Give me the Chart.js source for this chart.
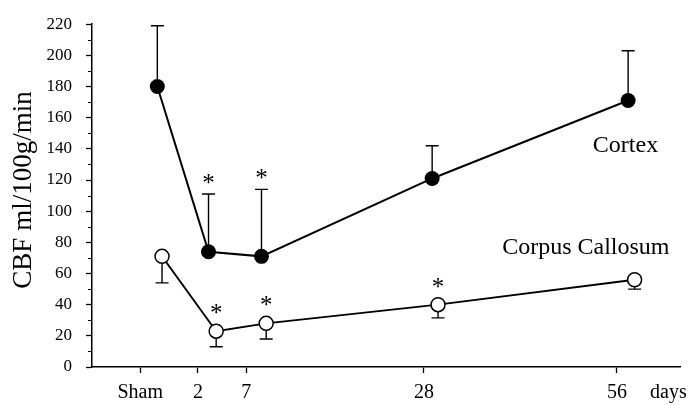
<!DOCTYPE html>
<html>
<head>
<meta charset="utf-8">
<script src="https://cdn.jsdelivr.net/npm/chart.js@4/dist/chart.umd.min.js"></script>
<style>
  html, body { margin: 0; padding: 0; background: #fff; }
  #wrap { width: 689px; height: 405px; }
</style>
</head>
<body>
<div id="wrap"><canvas id="c" width="689" height="405"></canvas></div>
<script>
// Horizontal axis is a drawn time line (position 0-100 along the axis), not to scale in days.
const tickLabels = ['Sham', '2', '7', '28', '56'];
const tickPos = [8.2, 18.0, 26.2, 56.4, 89.2];

// Cortex: mean CBF and SD (error bar drawn upward)
const cortexPos = [11.1, 19.8, 28.8, 57.8, 91.1];
const cortexMean = [180, 74, 71, 121, 171];
const cortexSD = [39, 37, 43, 21, 32];
const cortexSig = [false, true, true, false, false];

// Corpus callosum: mean CBF and SD (error bar drawn downward)
const callosumPos = [11.9, 21.1, 29.6, 58.8, 92.2];
const callosumMean = [71, 23, 28, 40, 56];
const callosumSD = [17, 10, 10, 8.5, 6];
const callosumSig = [false, true, true, true, false];

const yTitle = 'CBF ml/100g/min';
const unitLabel = 'days';
const seriesNames = ['Cortex', 'Corpus Callosum'];

const SERIF = "'Liberation Serif', 'Times New Roman', serif";
const INK = '#000';

// Draw text with its ink box vertically centred on y
function inkText(ctx, text, x, y, align) {
  ctx.textAlign = align || 'center';
  ctx.textBaseline = 'alphabetic';
  const m = ctx.measureText(text);
  ctx.fillText(text, x, y + (m.actualBoundingBoxAscent - m.actualBoundingBoxDescent) / 2);
}

const CORTEX_R = 7.5;
const CALLOSUM_R = 7;

const errorBars = {
  id: 'errorBars',
  beforeDatasetsDraw(chart) {
    const { ctx, scales: { x, y } } = chart;
    ctx.save();
    ctx.strokeStyle = INK;
    ctx.lineWidth = 1.4;
    const bar = (pos, from, to) => {
      const px = x.getPixelForValue(pos);
      const y0 = y.getPixelForValue(from);
      const y1 = y.getPixelForValue(to);
      ctx.beginPath();
      ctx.moveTo(px, y0);
      ctx.lineTo(px, y1);
      ctx.moveTo(px - 6.5, y1);
      ctx.lineTo(px + 6.5, y1);
      ctx.stroke();
    };
    cortexMean.forEach((m, i) => bar(cortexPos[i], m, m + cortexSD[i]));
    callosumMean.forEach((m, i) => bar(callosumPos[i], m, m - callosumSD[i]));
    ctx.restore();
  }
};

const annotations = {
  id: 'annotations',
  afterDraw(chart) {
    const { ctx, scales: { x, y } } = chart;
    ctx.save();
    ctx.fillStyle = INK;

    // minor ticks on the CBF axis
    ctx.strokeStyle = INK;
    ctx.lineWidth = 1;
    for (let v = 10; v < 220; v += 20) {
      const py = Math.round(y.getPixelForValue(v)) + 0.5;
      ctx.beginPath();
      ctx.moveTo(x.left - 4, py);
      ctx.lineTo(x.left, py);
      ctx.stroke();
    }

    // significance marks
    ctx.font = '25px ' + SERIF;
    cortexSig.forEach((s, i) => {
      if (!s) return;
      inkText(ctx, '*', x.getPixelForValue(cortexPos[i]),
        y.getPixelForValue(cortexMean[i] + cortexSD[i]) - 15);
    });
    callosumSig.forEach((s, i) => {
      if (!s) return;
      inkText(ctx, '*', x.getPixelForValue(callosumPos[i]),
        y.getPixelForValue(callosumMean[i]) - CALLOSUM_R - 15);
    });

    // series names
    ctx.font = '24px ' + SERIF;
    inkText(ctx, seriesNames[0], x.getPixelForValue(85.1), y.getPixelForValue(143), 'left');
    inkText(ctx, seriesNames[1], x.getPixelForValue(69.7), y.getPixelForValue(76), 'left');

    // unit at the end of the time axis
    ctx.font = '20px ' + SERIF;
    ctx.textAlign = 'left';
    ctx.textBaseline = 'middle';
    ctx.fillText(unitLabel, 650, 392.5);

    // vertical axis title
    ctx.font = '27px ' + SERIF;
    ctx.translate(24, 190);
    ctx.rotate(-Math.PI / 2);
    inkText(ctx, yTitle, 0, 0, 'center');
    ctx.restore();
  }
};

new Chart(document.getElementById('c'), {
  type: 'line',
  data: {
    datasets: [
      {
        label: seriesNames[0],
        data: cortexMean.map((m, i) => ({ x: cortexPos[i], y: m })),
        borderColor: INK,
        borderWidth: 2,
        pointRadius: CORTEX_R,
        pointBackgroundColor: INK,
        pointBorderColor: INK,
        pointBorderWidth: 0,
        tension: 0,
        clip: false
      },
      {
        label: seriesNames[1],
        data: callosumMean.map((m, i) => ({ x: callosumPos[i], y: m })),
        borderColor: INK,
        borderWidth: 1.8,
        pointRadius: CALLOSUM_R,
        pointBackgroundColor: '#fff',
        pointBorderColor: INK,
        pointBorderWidth: 1.5,
        tension: 0,
        clip: false
      }
    ]
  },
  options: {
    responsive: false,
    animation: false,
    devicePixelRatio: 1,
    layout: { padding: { top: 13, right: 6, left: 0, bottom: 0 } },
    plugins: { legend: { display: false }, tooltip: { enabled: false } },
    scales: {
      x: {
        type: 'linear',
        min: 0,
        max: 100,
        afterBuildTicks: (s) => { s.ticks = tickPos.map(v => ({ value: v })); },
        afterFit: (s) => { s.height = 38; },
        ticks: {
          callback: (v, i) => tickLabels[i],
          autoSkip: false,
          maxRotation: 0,
          padding: 8,
          color: INK,
          font: { family: SERIF, size: 20 }
        },
        grid: { drawOnChartArea: false, tickLength: 6, tickColor: INK, tickWidth: 1.3 },
        border: { color: INK, width: 1.5 }
      },
      y: {
        min: 0,
        max: 220,
        afterFit: (s) => { s.width = 92; },
        ticks: {
          stepSize: 20,
          padding: 14,
          color: INK,
          font: { family: SERIF, size: 17 }
        },
        grid: { drawOnChartArea: false, tickLength: 6, tickColor: INK, tickWidth: 1.3 },
        border: { color: INK, width: 1.5 }
      }
    }
  },
  plugins: [errorBars, annotations]
});
</script>
</body>
</html>
